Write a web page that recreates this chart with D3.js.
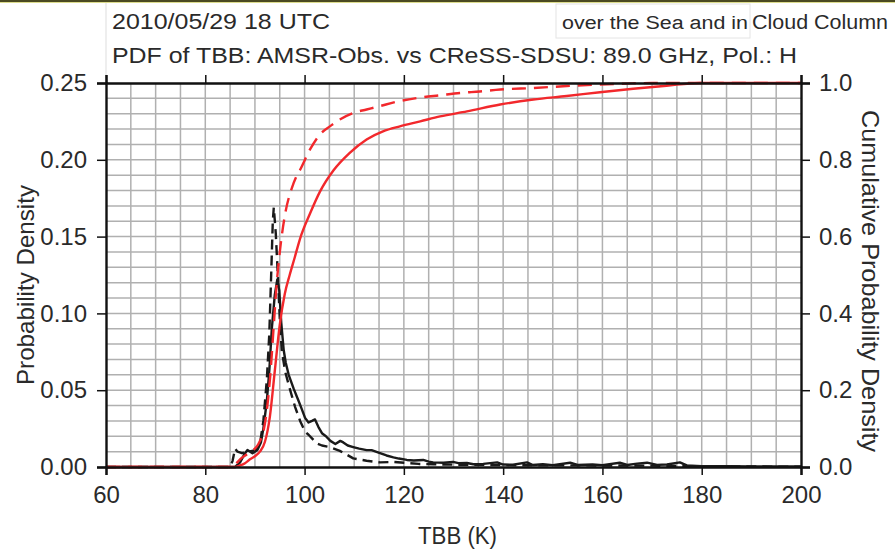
<!DOCTYPE html>
<html>
<head>
<meta charset="utf-8">
<script src="https://cdn.jsdelivr.net/npm/d3@7"></script>
<style>
  body { margin: 0; background: #fff; }
  svg text { font-family: "Liberation Sans", Arial, sans-serif; fill: #2a2a2a; }
</style>
</head>
<body>
<div id="chart"></div>
<script>
/* data */
var xTicks = [60, 80, 100, 120, 140, 160, 180, 200];
var yTicksLeft = [0, 0.05, 0.10, 0.15, 0.20, 0.25];
var yTicksRight = [0, 0.2, 0.4, 0.6, 0.8, 1.0];

// black solid PDF
var pdfSolidK = [60, 86, 87, 88, 88.5, 89.5, 90.5, 91.2, 91.7, 92.4, 92.9, 93.4, 94.0, 94.5, 94.9, 95.3, 95.8, 96.2, 96.8, 97.8, 98.8, 99.4, 100.1, 100.8, 101.5, 102.1, 102.8, 103.5, 104.3, 105.2, 106.2, 107.2, 107.8, 108.7, 109.8, 111, 112.5, 113.5, 115.2, 116.5, 117.9, 119, 120.6, 122, 123.9, 125, 125.9, 128, 129.9, 131, 132.7, 134, 136, 138.8, 140, 142, 144.8, 146, 148, 150, 153.5, 155, 158, 160, 163.5, 165, 167, 169, 171, 173, 175.6, 177, 180, 185, 190, 195, 200];
var pdfSolid = [0, 0, 0.003, 0.009, 0.011, 0.009, 0.011, 0.016, 0.025, 0.043, 0.063, 0.090, 0.112, 0.122, 0.115, 0.094, 0.076, 0.068, 0.060, 0.051, 0.043, 0.038, 0.032, 0.029, 0.030, 0.031, 0.026, 0.022, 0.020, 0.017, 0.015, 0.017, 0.016, 0.014, 0.013, 0.012, 0.011, 0.011, 0.009, 0.0075, 0.0063, 0.0055, 0.0046, 0.0042, 0.0046, 0.0035, 0.003, 0.0028, 0.0033, 0.0025, 0.0026, 0.0018, 0.0020, 0.0030, 0.0016, 0.0015, 0.0030, 0.0013, 0.0018, 0.0012, 0.0028, 0.0013, 0.0016, 0.0012, 0.0028, 0.0013, 0.0022, 0.0028, 0.0014, 0.0016, 0.0030, 0.0010, 0.0006, 0.0005, 0.0004, 0.0003, 0.0003];

// black dashed PDF
var pdfDashK = [60, 85, 85.5, 86, 86.5, 87.4, 88.7, 90.1, 91.1, 91.7, 92.4, 92.9, 93.3, 93.6, 93.8, 94.2, 94.6, 95.0, 95.4, 96.1, 97.1, 98.1, 99.1, 100.1, 100.8, 102.4, 103.5, 105.1, 107.1, 108.5, 109.8, 112.5, 115.2, 117.9, 120.6, 123, 126, 130, 135, 140, 150, 160, 170, 180, 190, 200];
var pdfDash = [0, 0, 0.004, 0.012, 0.010, 0.009, 0.010, 0.011, 0.017, 0.030, 0.057, 0.087, 0.128, 0.160, 0.169, 0.152, 0.126, 0.097, 0.076, 0.062, 0.050, 0.039, 0.030, 0.023, 0.021, 0.0155, 0.014, 0.013, 0.0105, 0.008, 0.0056, 0.0041, 0.003, 0.0033, 0.0026, 0.002, 0.0018, 0.0015, 0.0014, 0.0012, 0.0011, 0.001, 0.0009, 0.0005, 0.0003, 0.0002];

// red solid CDF (right axis)
var cdfSolidK = [60, 86, 87, 88, 89, 90, 91, 92, 93, 94, 95, 96, 97, 98, 99.1, 101.1, 103.1, 105.8, 109.1, 112.5, 115.8, 119.2, 123.3, 127.3, 132.7, 139.4, 146.1, 152.8, 159.5, 166.2, 172.9, 179.6, 200];
var cdfSolid = [0, 0, 0.004, 0.01, 0.02, 0.028, 0.04, 0.065, 0.13, 0.25, 0.37, 0.45, 0.50, 0.545, 0.595, 0.66, 0.717, 0.772, 0.818, 0.853, 0.874, 0.887, 0.900, 0.913, 0.926, 0.944, 0.957, 0.966, 0.976, 0.985, 0.993, 1.0, 1.0];

// red dashed CDF (right axis)
var cdfDashK = [60, 85.5, 86, 87, 88.7, 90.7, 92.1, 93.1, 93.8, 94.4, 95.1, 96.1, 97.4, 98.3, 99.1, 101.1, 103.1, 105.1, 107.1, 109.8, 112.5, 115.2, 119.2, 123.3, 127.3, 131.3, 135.3, 139.4, 146.1, 152.8, 159.5, 166, 170, 200];
var cdfDash = [0, 0, 0.006, 0.02, 0.036, 0.06, 0.12, 0.24, 0.37, 0.48, 0.57, 0.66, 0.725, 0.755, 0.774, 0.827, 0.866, 0.887, 0.905, 0.922, 0.931, 0.940, 0.953, 0.962, 0.968, 0.974, 0.978, 0.983, 0.987, 0.992, 0.996, 0.999, 1.0, 1.0];

var W = 895, H = 552;
var pLeft = 106, pRight = 801, pTop = 83, pBottom = 467;
var red = "#f2282c";

var svg = d3.select("#chart").append("svg").attr("width", W).attr("height", H);

// frame bits at the top of the picture
svg.append("rect").attr("x", 0).attr("y", 0).attr("width", W).attr("height", 2).style("fill", "#4b4a22");
svg.append("rect").attr("x", 0).attr("y", 2).attr("width", W).attr("height", 1).style("fill", "#dcdc8c");
svg.append("line").attr("x1", 106).attr("x2", 106).attr("y1", 3).attr("y2", 78).style("stroke", "#ddd");
svg.append("rect").attr("x", 556).attr("y", 4).attr("width", 194).attr("height", 34)
	.style("fill", "none").style("stroke", "#e4e4e4");

var x = d3.scaleLinear().domain([60, 200]).range([pLeft, pRight]);
var yL = d3.scaleLinear().domain([0, 0.25]).range([pBottom, pTop]);
var yR = d3.scaleLinear().domain([0, 1]).range([pBottom, pTop]);

// grid
var grid = svg.append("g").attr("class", "grid");
grid.selectAll(".vg").data(d3.range(65, 200, 5)).enter().append("line")
	.attr("x1", function(d) { return x(d); }).attr("x2", function(d) { return x(d); })
	.attr("y1", pTop).attr("y2", pBottom)
	.style("stroke", "#b0b0b0").style("stroke-width", 1.5);
grid.selectAll(".hg").data(d3.range(1, 25)).enter().append("line")
	.attr("x1", pLeft).attr("x2", pRight)
	.attr("y1", function(d) { return yL(d / 100); }).attr("y2", function(d) { return yL(d / 100); })
	.style("stroke", "#b0b0b0").style("stroke-width", 1.5);

// curves
function draw(ks, vs, yScale, color, dash, curve) {
	var pts = ks.map(function(k, i) { return [k, vs[i]]; });
	var line = d3.line()
		.x(function(d) { return x(d[0]); })
		.y(function(d) { return yScale(d[1]); })
		.curve(curve);
	svg.append("path").datum(pts)
		.attr("d", line)
		.style("fill", "none")
		.style("stroke", color)
		.style("stroke-width", 2.4)
		.style("stroke-dasharray", dash)
		.style("stroke-linejoin", "round");
}
draw(pdfSolidK, pdfSolid, yL, "#1a1a1a", null, d3.curveLinear);
draw(pdfDashK, pdfDash, yL, "#1a1a1a", "10,6", d3.curveLinear);
draw(cdfSolidK, cdfSolid, yR, red, null, d3.curveMonotoneX);
draw(cdfDashK, cdfDash, yR, red, "14,8", d3.curveMonotoneX);

// axes
var axBottom = svg.append("g").attr("transform", "translate(0," + pBottom + ")")
	.call(d3.axisBottom(x).tickValues(xTicks).tickSize(8).tickPadding(11).tickFormat(d3.format("d")));
var axTop = svg.append("g").attr("transform", "translate(0," + pTop + ")")
	.call(d3.axisTop(x).tickValues(xTicks).tickSize(8).tickFormat(""));
var axLeft = svg.append("g").attr("transform", "translate(" + pLeft + ",0)")
	.call(d3.axisLeft(yL).tickValues(yTicksLeft).tickSize(9).tickPadding(10).tickFormat(d3.format(".2f")));
var axRight = svg.append("g").attr("transform", "translate(" + pRight + ",0)")
	.call(d3.axisRight(yR).tickValues(yTicksRight).tickSize(9).tickPadding(9).tickFormat(d3.format(".1f")));

[axBottom, axTop, axLeft, axRight].forEach(function(a) {
	a.select(".domain").style("stroke", "#111").style("stroke-width", 2.4);
	a.selectAll(".tick line").style("stroke", "#111").style("stroke-width", 1.5);
	a.selectAll(".tick text").style("font-size", "24px").style("fill", "#2a2a2a")
		.style("font-family", "'Liberation Sans', Arial, sans-serif");
});

// titles and labels
svg.append("text").attr("x", 112).attr("y", 29).style("font-size", "22px")
	.attr("textLength", 218).attr("lengthAdjust", "spacingAndGlyphs").text("2010/05/29 18 UTC");
svg.append("text").attr("x", 112).attr("y", 63).style("font-size", "22px")
	.attr("textLength", 685).attr("lengthAdjust", "spacingAndGlyphs")
	.text("PDF of TBB: AMSR-Obs. vs CReSS-SDSU: 89.0 GHz, Pol.: H");
svg.append("text").attr("x", 562).attr("y", 29).style("font-size", "18px")
	.attr("textLength", 186).attr("lengthAdjust", "spacingAndGlyphs").text("over the Sea and in");
svg.append("text").attr("x", 752).attr("y", 29).style("font-size", "20px")
	.attr("textLength", 136).attr("lengthAdjust", "spacingAndGlyphs").text("Cloud Column");

svg.append("text").attr("x", 418).attr("y", 544).style("font-size", "23px")
	.attr("textLength", 79).attr("lengthAdjust", "spacingAndGlyphs").text("TBB (K)");
svg.append("text").attr("transform", "translate(34,385) rotate(-90)")
	.style("font-size", "24px")
	.attr("textLength", 200).attr("lengthAdjust", "spacingAndGlyphs").text("Probability Density");
svg.append("text").attr("transform", "translate(862,110) rotate(90)")
	.style("font-size", "24px")
	.attr("textLength", 342).attr("lengthAdjust", "spacingAndGlyphs").text("Cumulative Probability Density");
</script>
</body>
</html>
